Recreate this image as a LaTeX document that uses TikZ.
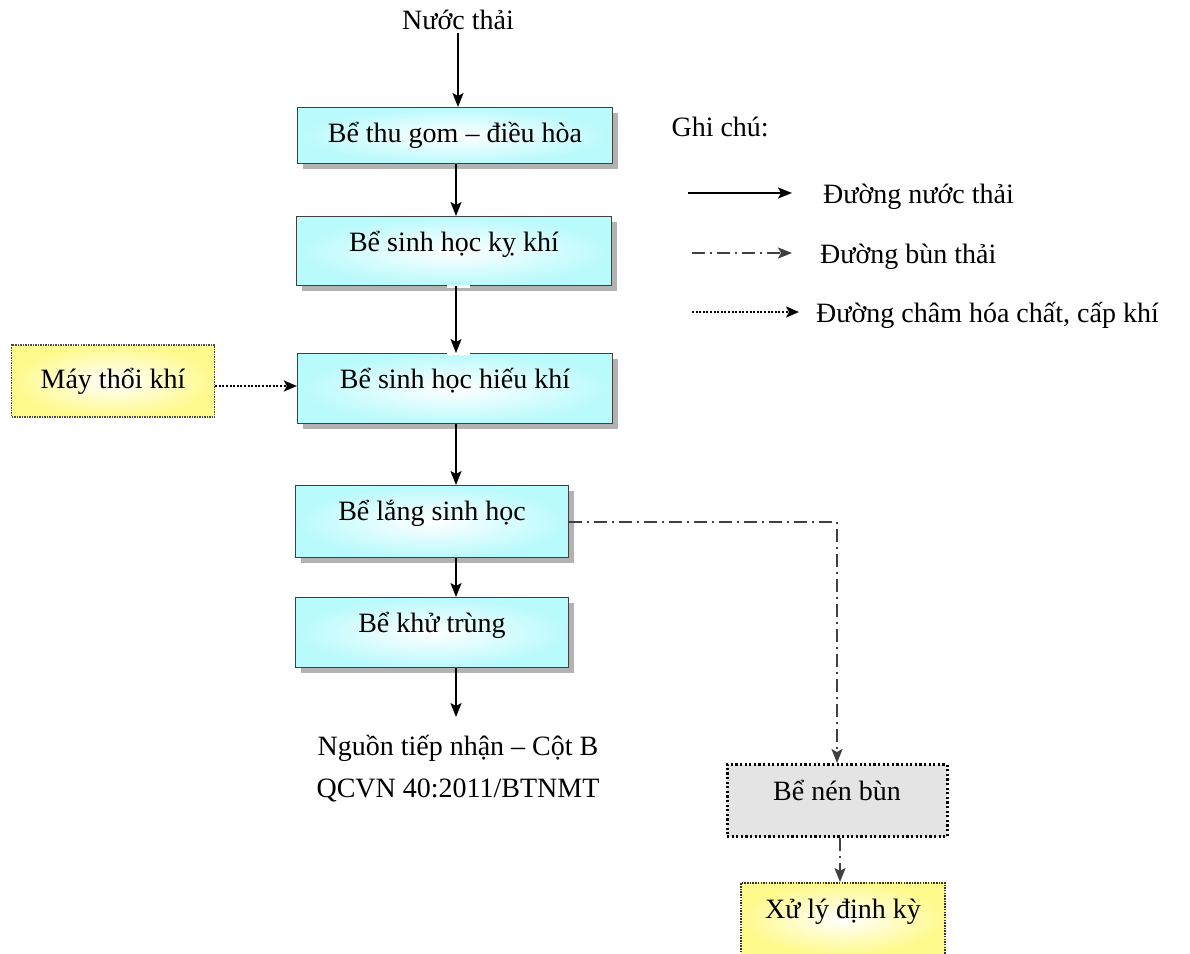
\documentclass[tikz,border=0pt]{standalone}
\usepackage{fontspec}
\setmainfont{Liberation Serif}
\usetikzlibrary{arrows.meta,shadows}
\definecolor{tankfill}{RGB}{185,250,252}
\definecolor{blowfill}{RGB}{255,250,140}
\definecolor{sludgefill}{RGB}{228,228,228}
\begin{document}
\begin{tikzpicture}[x=1pt,y=-1pt,
    font=\fontsize{28}{42}\selectfont,
    tank/.style={draw=black!75, line width=1.3pt, inner color=white, outer color=tankfill,
      drop shadow={shadow xshift=5pt, shadow yshift=-5pt, fill=black!60},
      anchor=north, minimum width=#1, inner sep=0pt, text height=35pt},
    flow/.style={-{Stealth[length=14pt,width=11pt,inset=3pt]}, line width=1.3pt},
    sludge/.style={-{Stealth[length=14pt,width=11pt,inset=3pt]}, line width=2pt, black!75,
      dash pattern=on 13pt off 5pt on 2pt off 5pt},
    air/.style={-{Stealth[length=13pt,width=11pt,inset=3pt]}, line width=2pt,
      dash pattern=on 2pt off 1.6pt}]
  \useasboundingbox (0,0) rectangle (1190,953);
  \coordinate (axis) at (456,0);

  % treatment line
  \foreach \name/\x/\y/\w/\d/\txt in {
      thugom/455/107/315/21/{Bể thu gom – điều hòa},
      kykhi/454/216/315/34/{Bể sinh học kỵ khí},
      hieukhi/455/353/315/35/{Bể sinh học hiếu khí},
      lang/432/485/273/37/{Bể lắng sinh học},
      khutrung/432/597/273/35/{Bể khử trùng}}
    \node[tank=\w, text depth=\d] (\name) at (\x,\y) {\txt};

  \node (nuoc) at (458,20) {Nước thải};
  \node[anchor=base, align=center] (nguon) at (458,797) {Nguồn tiếp nhận – Cột B\\QCVN 40:2011/BTNMT};
  \coordinate (outlet) at (456,717);

  % side units
  \node[draw=black!70, line width=1.2pt, dash pattern=on 1.5pt off 1pt,
        inner color=white, outer color=blowfill,
        minimum width=203pt, minimum height=72pt] (blower) at (113,381) {Máy thổi khí};
  \node[draw=black, line width=3pt, dash pattern=on 2.2pt off 2.4pt, fill=sludgefill,
        anchor=north, minimum width=220pt, inner sep=0pt, text height=36pt, text depth=36pt]
        (nen) at (837,763) {Bể nén bùn};
  \node[draw=black!80, line width=1.5pt, dash pattern=on 1.5pt off 1.2pt,
        inner color=white, outer color=blowfill,
        anchor=north, minimum width=204pt, inner sep=0pt, text height=36pt, text depth=36pt]
        (xuly) at (843,882) {Xử lý định kỳ};

  % gaps in the borders where the arrow passes
  \draw[white, line width=3pt] (kykhi.south -| 447,0) -- (kykhi.south -| 470,0);
  \draw[white, line width=3pt] (hieukhi.north -| 447,0) -- (hieukhi.north -| 470,0);

  % connectors
  \draw[flow] (nuoc.south) -- (nuoc.south |- thugom.north);
  \draw[flow] (thugom.south -| axis) -- (kykhi.north -| axis);
  \draw[flow] (kykhi.south -| axis) -- (hieukhi.north -| axis);
  \draw[flow] (hieukhi.south -| axis) -- (lang.north -| axis);
  \draw[flow] (lang.south -| axis) -- (khutrung.north -| axis);
  \draw[flow] (khutrung.south -| axis) -- (outlet);
  \draw[air] ([yshift=-5pt]blower.east) -- ([yshift=-5pt]blower.east -| hieukhi.west);
  \draw[sludge] (lang.east) -| (nen.north);
  \draw[sludge] (nen.south -| 840,0) -- (xuly.north -| 840,0);

  % legend
  \node[anchor=base west] (ghichu) at (668,136) {Ghi chú:};
  \foreach \i/\y/\sty/\xa/\xb/\xt/\txt in {
      1/193/flow/688/792/823/{Đường nước thải},
      2/253/sludge/692/792/820/{Đường bùn thải},
      3/312/air/692/799/816/{Đường châm hóa chất, cấp khí}} {
    \coordinate (keyA\i) at (\xa,\y);
    \coordinate (keyB\i) at (\xb,\y);
    \draw[\sty] (keyA\i) -- (keyB\i);
    \node[anchor=base west, inner sep=0pt] (key\i) at (\xt,\y+10) {\txt};
  }
\end{tikzpicture}
\end{document}
